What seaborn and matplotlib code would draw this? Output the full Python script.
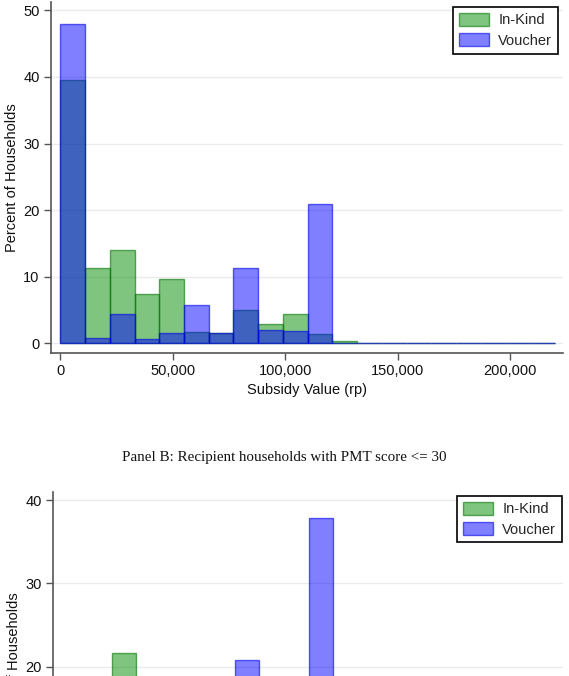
import numpy as np
import pandas as pd
import seaborn as sns
import matplotlib.pyplot as plt

# bins of 11,000 rp (lower bounds), last edge 220,000
bin_starts = [0, 11000, 22000, 33000, 44000, 55000, 66000, 77000, 88000, 99000,
              110000, 121000, 132000, 143000, 154000, 165000, 176000, 187000, 198000, 209000]
bin_end = 220000

# Panel A: percent of households per bin
inkind_a = [39.6, 11.3, 14.0, 7.4, 9.6, 1.65, 1.5, 5.0, 2.85, 4.35,
            1.35, 0.3, 0.1, 0.1, 0.1, 0.0, 0.0, 0.1, 0.1, 0.1]
voucher_a = [48.0, 0.75, 4.4, 0.6, 1.5, 5.7, 1.6, 11.3, 2.0, 1.85,
             20.9, 0.1, 0.1, 0.1, 0.1, 0.1, 0.1, 0.0, 0.1, 0.1]

# Panel B (only the visible tops of the bars; the rest is cut off)
inkind_b = [0, 0, 21.6, 0, 0, 0, 0, 0, 0, 0, 0, 0, 0, 0, 0, 0, 0, 0, 0, 0]
voucher_b = [0, 0, 0, 0, 0, 0, 0, 20.8, 0, 0, 37.8, 0, 0, 0, 0, 0, 0, 0, 0, 0]

panel_b_title = "Panel B: Recipient households with PMT score <= 30"

edges = bin_starts + [bin_end]
mids = [b + (bin_end - bin_starts[-1]) / 2 for b in bin_starts]

sns.set_style("ticks")
plt.rcParams['font.family'] = ['Liberation Sans', 'DejaVu Sans']

W, H = 569, 676
fig = plt.figure(figsize=(W / 100, H / 100), dpi=100)


def px_axes(left, top, right, bottom):
    return fig.add_axes([left / W, 1 - bottom / H, (right - left) / W, (bottom - top) / H])


green_fc = (0.0, 0.55, 0.0, 0.5)
green_ec = (0.0, 0.45, 0.0, 0.6)
blue_fc = (0.0, 0.0, 1.0, 0.5)
blue_ec = (0.0, 0.0, 0.9, 0.6)


def draw_panel(ax, ink, vou, ylim, yticks, legend_anchor, show_x=True):
    df = pd.DataFrame({"mid": mids, "In-Kind": ink, "Voucher": vou})
    sns.histplot(data=df, x="mid", weights="In-Kind", bins=edges, ax=ax,
                 facecolor=green_fc, edgecolor=green_ec, linewidth=1.0, label="In-Kind")
    sns.histplot(data=df, x="mid", weights="Voucher", bins=edges, ax=ax,
                 facecolor=blue_fc, edgecolor=blue_ec, linewidth=1.0, label="Voucher")
    ax.set_xlim(-4270, 223570)
    ax.set_ylim(*ylim)
    ax.set_yticks(yticks)
    ax.set_xticks([0, 50000, 100000, 150000, 200000])
    ax.yaxis.grid(True, color="#ebebeb", linewidth=1.0)
    ax.set_axisbelow(True)
    for s in ["top", "right"]:
        ax.spines[s].set_visible(False)
    for s in ["left", "bottom"]:
        ax.spines[s].set_color("#555555")
        ax.spines[s].set_linewidth(1.2)
    ax.tick_params(axis="both", direction="out", length=5, width=1.0, color="#555555",
                   labelsize=10.5, labelcolor="#111111", pad=3)
    if show_x:
        ax.set_xticklabels(["0", "50,000", "100,000", "150,000", "200,000"])
        ax.set_xlabel("Subsidy Value (rp)", fontsize=10.5, color="#111111", labelpad=4)
    else:
        # x axis texts fall below the visible page
        ax.set_xticklabels([])
        ax.set_xlabel("")
    ax.set_ylabel("Percent of Households", fontsize=10.5, color="#111111", labelpad=3)
    leg = ax.legend(loc="upper right", bbox_to_anchor=legend_anchor, fontsize=10.5,
                    frameon=True, fancybox=False, framealpha=1, edgecolor="black",
                    handlelength=2.05, handleheight=1.0, handletextpad=0.65,
                    labelspacing=0.4, borderpad=0.4, borderaxespad=0)
    leg.get_frame().set_linewidth(1.2)


ax1 = px_axes(50.7, 1.7, 563, 352.7)
draw_panel(ax1, inkind_a, voucher_a, (-1.41, 51.3), [0, 10, 20, 30, 40, 50], (0.990, 0.985))

fig.text(0.5, 1 - 458 / H, panel_b_title, ha="center", va="center",
         fontsize=10.8, family=["Liberation Serif", "DejaVu Serif"], color="#111111")

# lower panel runs past the bottom of the page, only its top part shows
ax2 = px_axes(52.7, 491.7, 563, 842.4)
draw_panel(ax2, inkind_b, voucher_b, (-1.1, 41.0), [20, 30, 40], (0.998, 0.988),
           show_x=False)

fig.savefig("out.png", dpi=100)
